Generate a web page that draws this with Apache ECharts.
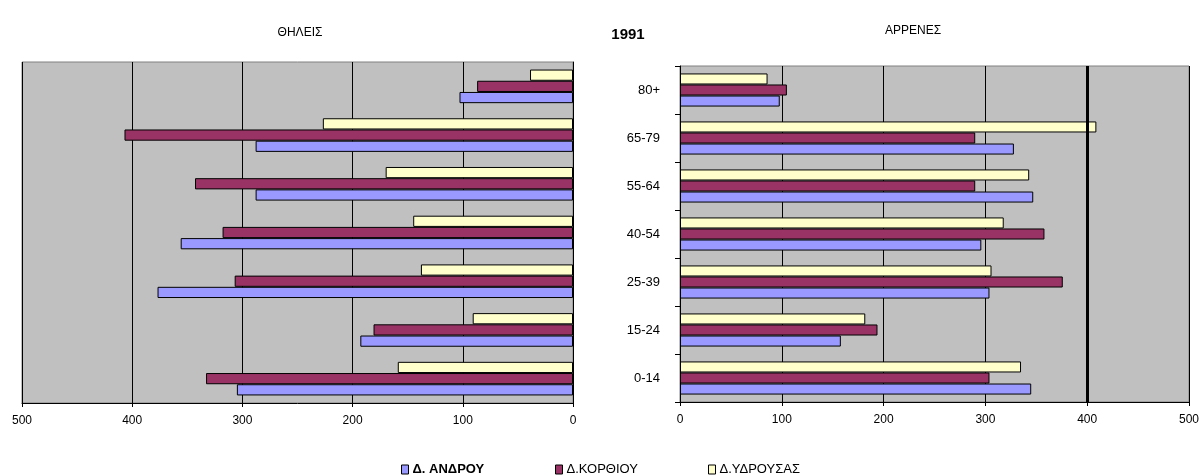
<!DOCTYPE html>
<html>
<head>
<meta charset="utf-8">
<script src="https://cdn.jsdelivr.net/npm/echarts@6/dist/echarts.min.js"></script>
<style>
html, body { margin: 0; padding: 0; background: #fff; }
#chart { width: 1203px; height: 475px; }
</style>
</head>
<body>
<div id="chart"></div>
<script>
// ηλικιακές ομάδες (από κάτω προς τα πάνω)
var ageGroups = ['0-14', '15-24', '25-39', '40-54', '55-64', '65-79', '80+'];
var seriesNames = ['Δ. ΑΝΔΡΟΥ', 'Δ.ΚΟΡΘΙΟΥ', 'Δ.ΥΔΡΟΥΣΑΣ'];
var xTicks = [0, 100, 200, 300, 400, 500];

// ΘΗΛΕΙΣ
var femAndrou    = [305, 193, 377, 356, 288, 288, 103];
var femKorthiou  = [333, 181, 307, 318, 343, 407, 87];
var femYdrousas  = [159, 91, 138, 145, 170, 227, 39];

// ΑΡΡΕΝΕΣ
var maleAndrou   = [345, 158, 304, 296, 347, 328, 98];
var maleKorthiou = [304, 194, 376, 358, 290, 290, 105];
var maleYdrousas = [335, 182, 306, 318, 343, 409, 86];

var colors = ['#9999FF', '#993366', '#FFFFCC'];
var font = 'Liberation Sans, Arial, sans-serif';

function barSeries(name, data, idx, color) {
    return {
        name: name,
        type: 'bar',
        xAxisIndex: idx,
        yAxisIndex: idx,
        data: data,
        barGap: '0%',
        barCategoryGap: '31%',
        itemStyle: { color: color, borderColor: '#000', borderWidth: 1 },
        emphasis: { disabled: true }
    };
}

var myChart = echarts.init(document.getElementById('chart'));

function valueAxis(idx, inverse) {
    return {
        type: 'value',
        gridIndex: idx,
        min: xTicks[0],
        max: xTicks[xTicks.length - 1],
        interval: 100,
        inverse: inverse,
        axisLine: { show: true, lineStyle: { color: '#000', width: 1 } },
        axisTick: { show: true, length: 4, lineStyle: { color: '#000' } },
        axisLabel: { margin: 12, color: '#000', fontFamily: font, fontSize: 12 },
        splitLine: { show: true, lineStyle: { color: '#000', width: 1 } }
    };
}

function legendItem(i, left, weight) {
    return {
        data: [seriesNames[i]],
        left: left,
        top: 458,
        itemWidth: 7,
        itemHeight: 9,
        icon: 'rect',
        selectedMode: false,
        textStyle: { fontFamily: font, fontSize: 13, fontWeight: weight, color: '#000', padding: [0, 0, 0, -1] },
        itemStyle: { borderColor: '#000', borderWidth: 1 }
    };
}

// η πρώτη σειρά σχεδιάζεται πάνω, οπότε ΥΔΡΟΥΣΑΣ πρώτη
var maleAndrouSeries = barSeries(seriesNames[0], maleAndrou, 1, colors[0]);
// παχύτερη γραμμή στο 400
maleAndrouSeries.markLine = {
    silent: true,
    symbol: 'none',
    label: { show: false },
    lineStyle: { color: '#000', width: 3, type: 'solid' },
    data: [{ xAxis: 400 }]
};

var option = {
    animation: false,
    backgroundColor: '#fff',
    title: [
        { text: 'ΘΗΛΕΙΣ', left: 295, top: 22, textAlign: 'center',
          textStyle: { fontFamily: font, fontSize: 12, fontWeight: 'normal', color: '#000' } },
        { text: '1991', left: 623, top: 22, textAlign: 'center',
          textStyle: { fontFamily: font, fontSize: 15, fontWeight: 'bold', color: '#000' } },
        { text: 'ΑΡΡΕΝΕΣ', left: 908, top: 20, textAlign: 'center',
          textStyle: { fontFamily: font, fontSize: 12, fontWeight: 'normal', color: '#000' } }
    ],
    legend: [legendItem(0, 396, 'bold'), legendItem(1, 550, 'normal'), legendItem(2, 703, 'normal')],
    grid: [
        { left: 22, top: 62, width: 551, height: 341, show: true,
          backgroundColor: '#C0C0C0', borderColor: '#808080', borderWidth: 1 },
        { left: 680, top: 66, width: 509, height: 336, show: true,
          backgroundColor: '#C0C0C0', borderColor: '#808080', borderWidth: 1 }
    ],
    xAxis: [valueAxis(0, true), valueAxis(1, false)],
    yAxis: [
        { type: 'category', gridIndex: 0, data: ageGroups, position: 'right',
          axisLine: { show: true, lineStyle: { color: '#000' } },
          axisTick: { show: false }, axisLabel: { show: false } },
        { type: 'category', gridIndex: 1, data: ageGroups,
          axisLine: { show: true, lineStyle: { color: '#000' } },
          axisTick: { show: true, length: 5, lineStyle: { color: '#000' } },
          axisLabel: { margin: 20, fontSize: 13, color: '#000', fontFamily: font } }
    ],
    series: [
        barSeries(seriesNames[2], femYdrousas, 0, colors[2]),
        barSeries(seriesNames[1], femKorthiou, 0, colors[1]),
        barSeries(seriesNames[0], femAndrou, 0, colors[0]),
        barSeries(seriesNames[2], maleYdrousas, 1, colors[2]),
        barSeries(seriesNames[1], maleKorthiou, 1, colors[1]),
        maleAndrouSeries
    ]
};

myChart.setOption(option);
</script>
</body>
</html>
